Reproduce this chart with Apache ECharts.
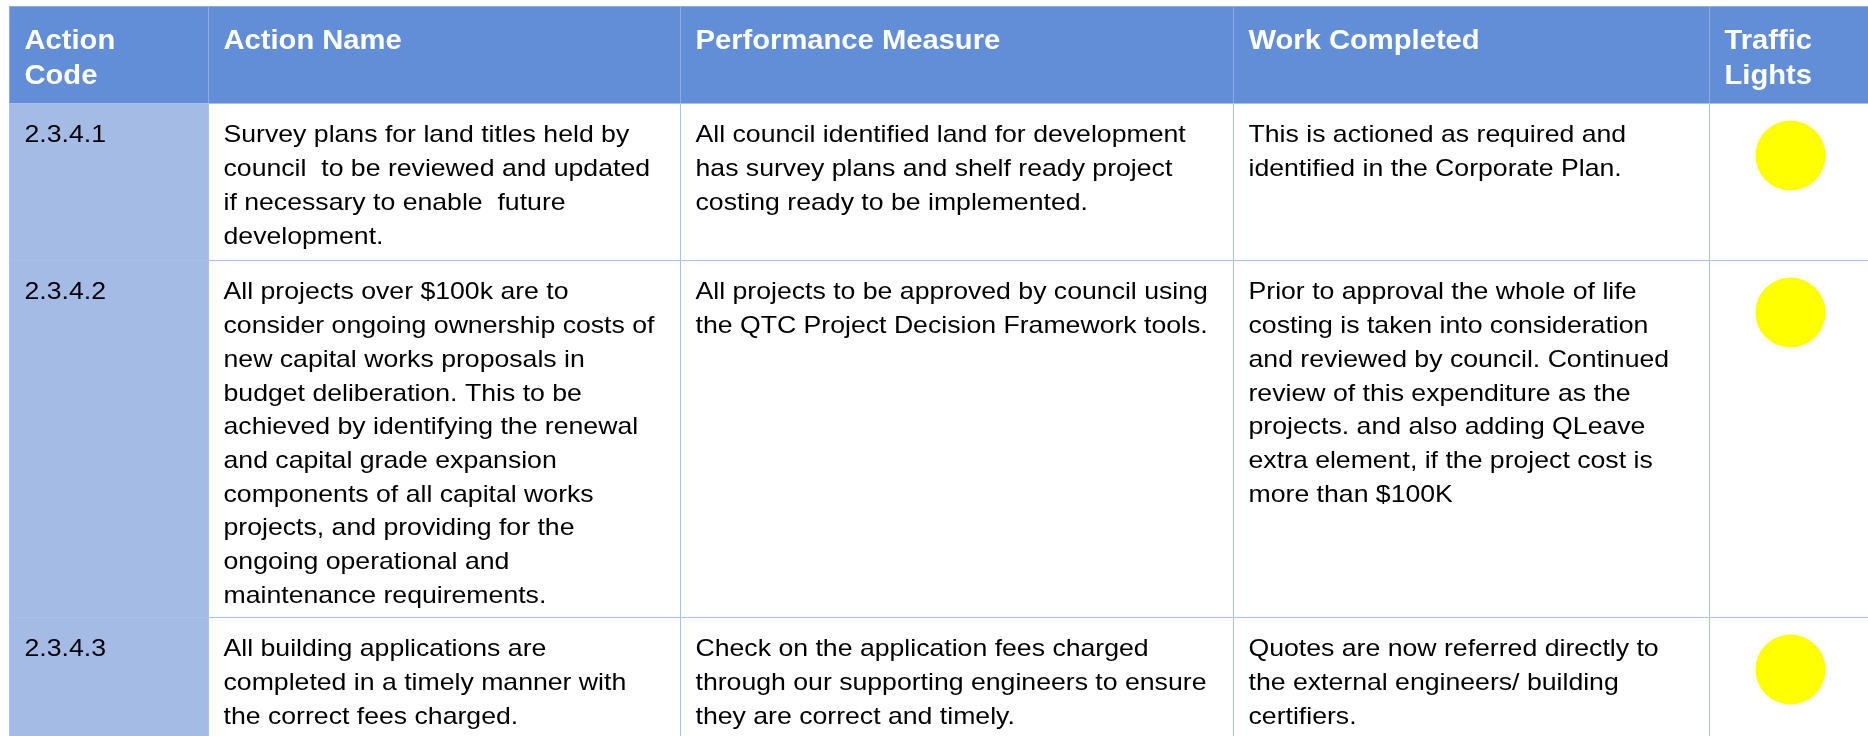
<!DOCTYPE html>
<html>
<head>
<meta charset="utf-8">
<script src="https://cdn.jsdelivr.net/npm/echarts@6/dist/echarts.min.js"></script>
<style>
  html, body { margin: 0; padding: 0; background: #ffffff; }
  #chart { width: 1868px; height: 736px; }
</style>
</head>
<body>
<div id="chart"></div>
<script>
// ---- data ----
var headers = ['Action\nCode', 'Action Name', 'Performance Measure', 'Work Completed', 'Traffic\nLights'];
var actionCodes = ['2.3.4.1', '2.3.4.2', '2.3.4.3'];
var actionNames = [
  'Survey plans for land titles held by\ncouncil  to be reviewed and updated\nif necessary to enable  future\ndevelopment.',
  'All projects over $100k are to\nconsider ongoing ownership costs of\nnew capital works proposals in\nbudget deliberation. This to be\nachieved by identifying the renewal\nand capital grade expansion\ncomponents of all capital works\nprojects, and providing for the\nongoing operational and\nmaintenance requirements.',
  'All building applications are\ncompleted in a timely manner with\nthe correct fees charged.'
];
var performanceMeasures = [
  'All council identified land for development\nhas survey plans and shelf ready project\ncosting ready to be implemented.',
  'All projects to be approved by council using\nthe QTC Project Decision Framework tools.',
  'Check on the application fees charged\nthrough our supporting engineers to ensure\nthey are correct and timely.'
];
var workCompleted = [
  'This is actioned as required and\nidentified in the Corporate Plan.',
  'Prior to approval the whole of life\ncosting is taken into consideration\nand reviewed by council. Continued\nreview of this expenditure as the\nprojects. and also adding QLeave\nextra element, if the project cost is\nmore than $100K',
  'Quotes are now referred directly to\nthe external engineers/ building\ncertifiers.'
];
var trafficLights = ['yellow', 'yellow', 'yellow'];

// ---- layout (pixel grid used as axis units) ----
var colEdges = [9, 208, 680, 1233, 1709, 1871];
var rowEdges = [6, 103, 260, 617, 800];
var lightColors = { yellow: '#FFFF00', green: '#00B050', red: '#FF0000' };

// build cell list
var cells = [];
headers.forEach(function (h, c) {
  cells.push({ c: c, r: 0, text: h, header: true, fill: '#628DD7' });
});
for (var i = 0; i < actionCodes.length; i++) {
  var cols = [actionCodes[i], actionNames[i], performanceMeasures[i], workCompleted[i], ''];
  for (var c = 0; c < cols.length; c++) {
    cells.push({
      c: c, r: i + 1, text: cols[c], header: false,
      fill: c === 0 ? '#A4BBE6' : '#FFFFFF',
      light: c === 4 ? trafficLights[i] : null
    });
  }
}

var chart = echarts.init(document.getElementById('chart'));
chart.setOption({
  animation: false,
  grid: { left: 0, right: 0, top: 0, bottom: 0 },
  xAxis: { type: 'value', min: 0, max: 1868, show: false },
  yAxis: { type: 'value', min: 0, max: 736, inverse: true, show: false },
  series: [{
    type: 'custom',
    coordinateSystem: 'cartesian2d',
    clip: true,
    data: cells.map(function (cl) {
      return [colEdges[cl.c], rowEdges[cl.r], colEdges[cl.c + 1], rowEdges[cl.r + 1]];
    }),
    renderItem: function (params, api) {
      var cl = cells[params.dataIndex];
      var p0 = api.coord([api.value(0), api.value(1)]);
      var p1 = api.coord([api.value(2), api.value(3)]);
      var x0 = Math.round(p0[0]) + 0.5, y0 = Math.round(p0[1]) + 0.5;
      var x1 = Math.round(p1[0]) + 0.5, y1 = Math.round(p1[1]) + 0.5;
      var children = [{
        type: 'rect',
        shape: { x: x0, y: y0, width: x1 - x0, height: y1 - y0 },
        style: { fill: cl.fill, stroke: cl.header ? '#8EAAE2' : '#A9C0EC', lineWidth: 1 }
      }];
      if (cl.text) {
        children.push({
          type: 'text',
          x: x0 + 15,
          y: y0 + (cl.header ? 18 : 15.5),
          scaleX: cl.header ? 1.08 : 1.11,
          style: {
            text: cl.text,
            fill: cl.header ? '#FFFFFF' : '#000000',
            fontFamily: '"Liberation Sans", Arial, sans-serif',
            fontSize: cl.header ? 27 : 24,
            fontWeight: cl.header ? 'bold' : 'normal',
            lineHeight: cl.header ? 35 : 33.7,
            align: 'left',
            verticalAlign: 'top'
          }
        });
      }
      if (cl.light) {
        children.push({
          type: 'circle',
          shape: { cx: (x0 + x1) / 2, cy: y0 + 52, r: 35 },
          style: { fill: lightColors[cl.light] }
        });
      }
      return { type: 'group', children: children };
    }
  }]
});
</script>
</body>
</html>
